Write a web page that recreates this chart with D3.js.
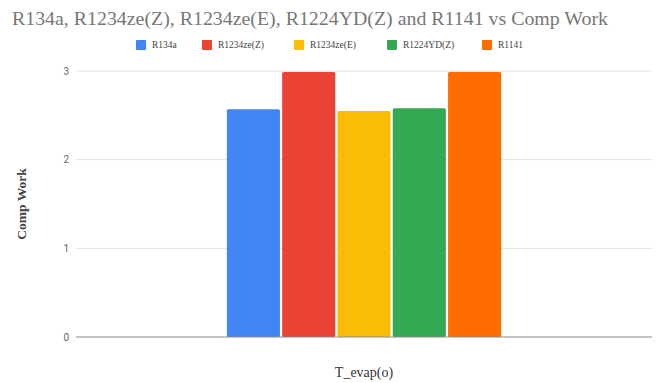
<!DOCTYPE html>
<html><head><meta charset="utf-8">
<script src="https://cdn.jsdelivr.net/npm/d3@7"></script>
<style>body{margin:0;background:#fff}svg{display:block}</style>
</head><body>
<svg id="chart" width="656" height="383"></svg>
<script>
const categories = ["T_evap(o)"];
const seriesNames = ["R134a", "R1234ze(Z)", "R1234ze(E)", "R1224YD(Z)", "R1141"];
const seriesValues = [2.57, 2.99, 2.55, 2.58, 2.99];
const seriesColors = ["#4285f4", "#ea4335", "#fbbc04", "#34a853", "#ff6d01"];
const yTicks = [0, 1, 2, 3];
const titleText = "R134a, R1234ze(Z), R1234ze(E), R1224YD(Z) and R1141  vs Comp Work";
const yTitle = "Comp Work";

const svg = d3.select("#chart");
const W = 656, H = 383;
const m = {left: 76, right: 4, top: 71, bottom: 46};
const x0 = d3.scaleBand().domain(categories).range([m.left, W - m.right]).paddingInner(0).paddingOuter(0.55);
const x1 = d3.scaleBand().domain(seriesNames).range([0, x0.bandwidth()]).paddingInner(0.04);
const y = d3.scaleLinear().domain([0, 3]).range([H - m.bottom, m.top]);

// gridlines
svg.append("g").selectAll("line").data(yTicks.filter(d => d > 0)).join("line")
  .attr("x1", m.left).attr("x2", W - m.right)
  .attr("y1", d => y(d)).attr("y2", d => y(d))
  .attr("stroke", "#e3e3e3").attr("stroke-width", 1);

// y tick labels
svg.append("g").selectAll("text").data(yTicks).join("text")
  .attr("x", m.left - 7).attr("y", d => y(d)).attr("dy", "0.35em")
  .attr("text-anchor", "end").attr("font-family", "Roboto, Arial, sans-serif")
  .attr("font-size", 10).attr("fill", "#666").text(d => d);

// bars
const data = seriesNames.map((s, i) => ({s, v: seriesValues[i], c: seriesColors[i], cat: categories[0]}));
svg.append("g").selectAll("rect").data(data).join("rect")
  .attr("x", d => x0(d.cat) + x1(d.s))
  .attr("y", d => y(d.v))
  .attr("width", x1.bandwidth())
  .attr("height", d => y(0) - y(d.v))
  .attr("rx", 1.5)
  .attr("fill", d => d.c);

// baseline
svg.append("line").attr("x1", m.left).attr("x2", W - m.right)
  .attr("y1", y(0)).attr("y2", y(0)).attr("stroke", "#8a8a8a").attr("stroke-width", 1.2);

// title
svg.append("text").attr("x", 12).attr("y", 25)
  .attr("font-family", "'Liberation Serif', serif").attr("font-size", 19)
  .attr("textLength", 596).attr("lengthAdjust", "spacingAndGlyphs")
  .attr("fill", "#777").text(titleText);

// legend
const legX = [136, 202, 294, 387, 482];
const leg = svg.append("g").selectAll("g").data(data).join("g")
  .attr("transform", (d, i) => `translate(${legX[i]},40)`);
leg.append("rect").attr("width", 10).attr("height", 10).attr("rx", 1).attr("fill", d => d.c);
leg.append("text").attr("x", 16).attr("y", 5).attr("dy", "0.35em")
  .attr("font-family", "'Liberation Serif', serif").attr("font-size", 9.5)
  .attr("fill", "#444").text(d => d.s);

// axis titles
svg.append("text").attr("x", x0(categories[0]) + x0.bandwidth() / 2).attr("y", 377)
  .attr("text-anchor", "middle").attr("font-family", "'Liberation Serif', serif")
  .attr("font-size", 14).attr("fill", "#333").text(categories[0]);
svg.append("text").attr("transform", `translate(26,${(y(0) + y(3)) / 2}) rotate(-90)`)
  .attr("text-anchor", "middle").attr("font-family", "'Liberation Serif', serif")
  .attr("font-size", 13.5).attr("font-weight", "bold").attr("fill", "#444").text(yTitle);
</script>
</body></html>
